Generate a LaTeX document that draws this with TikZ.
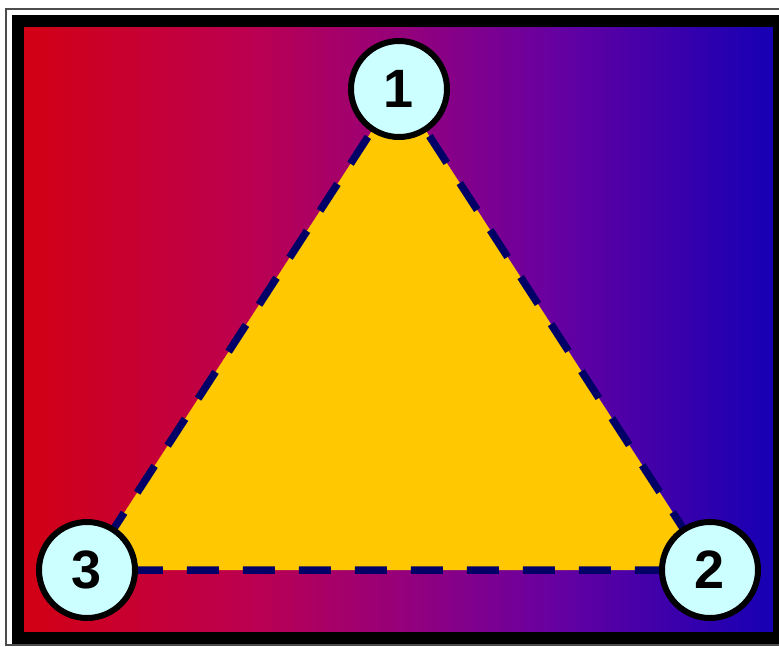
\documentclass[tikz,border=0pt]{standalone}
\usepackage{fontspec}
\setmainfont{Liberation Sans}
\usetikzlibrary{backgrounds}
\definecolor{bgred}{RGB}{210,0,20}
\definecolor{bgrose}{RGB}{188,0,80}
\definecolor{bgpurple}{RGB}{150,0,122}
\definecolor{bgviolet}{RGB}{105,0,160}
\definecolor{bgblue}{RGB}{22,0,180}
\definecolor{trifill}{RGB}{255,200,0}
\definecolor{edgenavy}{RGB}{0,0,102}
\definecolor{nodecyan}{RGB}{204,255,255}
\pgfdeclarehorizontalshading{backdrop}{100bp}{
  color(0bp)=(bgred); color(25bp)=(bgred); color(40bp)=(bgrose);
  color(50bp)=(bgpurple); color(60bp)=(bgviolet);
  color(75bp)=(bgblue); color(100bp)=(bgblue)}

\begin{document}
\begin{tikzpicture}[
  x=1pt, y=-1pt,
  vertex/.style={circle, draw=black, line width=6pt, fill=nodecyan,
                 minimum size=96pt, inner sep=0pt,
                 font=\fontsize{54}{54}\selectfont\bfseries},
  edge/.style={draw=edgenavy, line width=7.5pt, dash pattern=on 32pt off 24pt},
]
  \useasboundingbox (0,0) rectangle (779,646);

  \node[vertex] (n1) at (399,89)  {1};
  \node[vertex] (n2) at (710,570) {2};
  \node[vertex] (n3) at (87,570)  {3};

  \begin{scope}[on background layer]
    % frame and backdrop
    \draw[line width=2pt, black!70] (6,9) rectangle (800,645);
    \shade[shading=backdrop] (24,27) rectangle (773,632);
    \draw[line width=12pt] (18,21) rectangle (779,637.5);

    % triangle
    \fill[trifill] (n1.center) -- (n2.center) -- (n3.center) -- cycle;
    \draw[edge] (n1.center) -- (n2.center) -- (n3.center) -- cycle;
  \end{scope}
\end{tikzpicture}
\end{document}
